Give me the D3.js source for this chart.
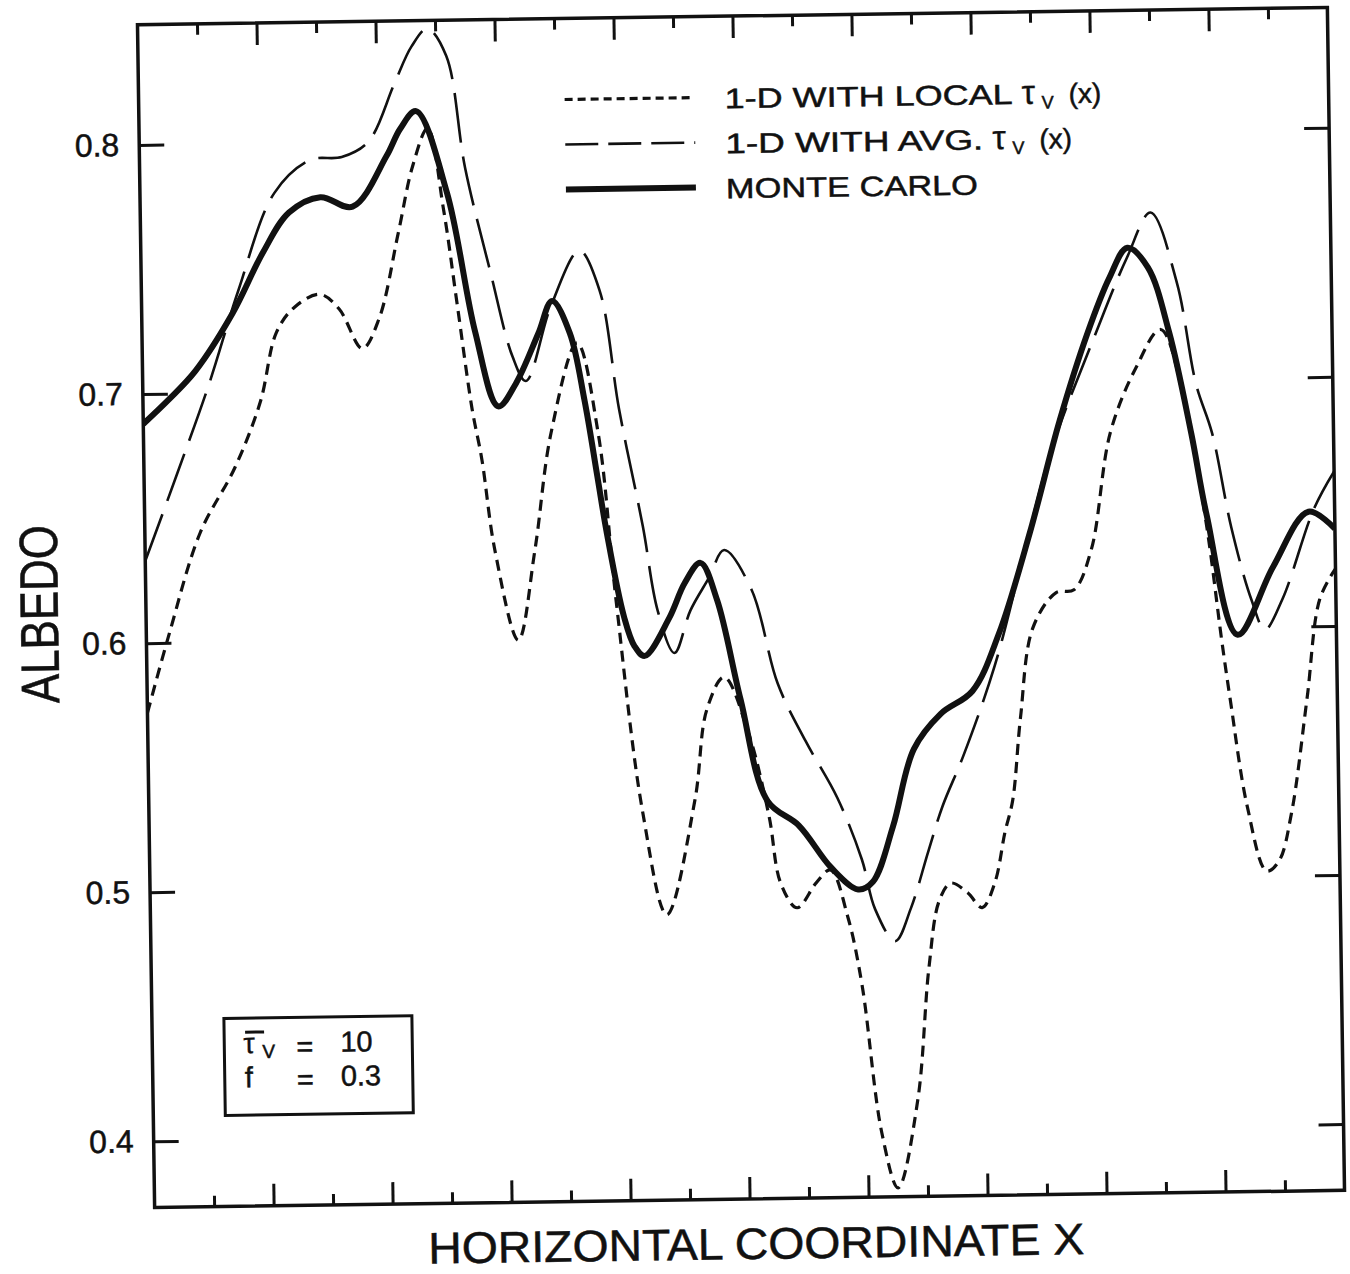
<!DOCTYPE html>
<html lang="en">
<head>
    <meta charset="UTF-8">
    <title>Albedo vs horizontal coordinate</title>
    <script src="https://d3js.org/d3.v7.min.js"></script>
    <style>
        body {
            margin: 0;
            background: #fff;
        }
        svg text {
            font-family: "Liberation Sans", Arial, Helvetica, sans-serif;
            fill: #111;
            stroke: #111;
            stroke-width: 0.5;
        }
        .axis path.domain {
            display: none;
        }
        .axis line {
            stroke: #111;
            stroke-width: 3;
        }
    </style>
</head>
<body>
    <svg id="chart" width="1350" height="1274"></svg>

    <script>
        // values, x in tick intervals (0..20)
        const xLocal = [0, 0.39, 0.93, 1.53, 1.97, 2.26, 2.57, 3.0, 3.32, 3.7, 3.99, 4.33, 4.59, 4.85, 5.1,
            5.3, 5.53, 5.68, 5.88, 6.25, 6.55, 6.85, 7.31, 7.64, 7.9, 8.3, 8.68, 9.18, 9.4, 9.7,
            10.1, 10.42, 10.6, 10.87, 11.2, 11.44, 11.72, 11.94, 12.24, 12.5, 12.85, 13.07, 13.26, 13.46, 13.74,
            13.98, 14.2, 14.38, 14.52, 14.67, 14.9, 15.3, 15.6, 15.9, 16.25, 16.7, 17.12, 17.55, 17.85, 18.07,
            18.2, 18.46, 18.77, 18.98, 19.2, 19.49, 19.73, 20];
        const albedoLocal = [0.572, 0.604, 0.644, 0.670, 0.696, 0.724, 0.734, 0.739, 0.733, 0.717, 0.729, 0.763, 0.790, 0.805, 0.772,
            0.735, 0.692, 0.672, 0.635, 0.599, 0.635, 0.682, 0.718, 0.682, 0.615, 0.529, 0.488, 0.534, 0.570, 0.583,
            0.560, 0.527, 0.500, 0.490, 0.500, 0.505, 0.486, 0.459, 0.399, 0.377, 0.412, 0.465, 0.492, 0.499, 0.495,
            0.489, 0.499, 0.519, 0.532, 0.565, 0.601, 0.615, 0.616, 0.632, 0.679, 0.705, 0.720, 0.685, 0.640, 0.595,
            0.571, 0.528, 0.502, 0.506, 0.525, 0.571, 0.611, 0.623];

        const xAvg = [0, 0.56, 1.12, 1.63, 2.26, 2.87, 3.4, 3.85, 4.3, 4.6, 4.87, 5.18, 5.47, 5.87, 6.22,
            6.44, 6.88, 7.37, 7.7, 8.0, 8.37, 8.6, 8.87, 9.15, 9.47, 9.73, 10.18, 10.6, 11.05, 11.57,
            11.97, 12.18, 12.51, 12.78, 13.09, 13.34, 13.7, 14.25, 14.78, 15.25, 16.03, 16.57, 16.98, 17.4, 17.7,
            17.96, 18.26, 18.58, 18.8, 19.1, 19.65, 20];
        const albedoAvg = [0.633, 0.668, 0.704, 0.741, 0.780, 0.793, 0.794, 0.800, 0.823, 0.838, 0.845, 0.834, 0.789, 0.747, 0.713,
            0.703, 0.733, 0.755, 0.739, 0.691, 0.644, 0.610, 0.593, 0.610, 0.623, 0.634, 0.618, 0.580, 0.557, 0.534,
            0.509, 0.489, 0.476, 0.489, 0.512, 0.530, 0.550, 0.586, 0.632, 0.672, 0.719, 0.749, 0.767, 0.739, 0.698,
            0.678, 0.640, 0.611, 0.599, 0.611, 0.647, 0.662];

        const xMC = [0, 0.45, 0.89, 1.53, 2.05, 2.5, 3.03, 3.57, 4.15, 4.39, 4.66, 5.16, 5.6, 5.97, 6.27,
            6.66, 6.9, 7.19, 7.42, 7.62, 7.76, 8.03, 8.2, 8.37, 8.79, 9.06, 9.33, 9.6, 9.97, 10.4,
            10.92, 11.45, 11.9, 12.15, 12.5, 12.87, 13.33, 13.87, 14.33, 14.87, 15.4, 15.89, 16.27, 16.58, 16.92,
            17.26, 17.61, 17.85, 18.34, 18.95, 19.56, 20];
        const albedoMC = [0.688, 0.698, 0.709, 0.732, 0.756, 0.772, 0.778, 0.774, 0.794, 0.805, 0.812, 0.779, 0.723, 0.693, 0.702,
            0.722, 0.735, 0.722, 0.695, 0.664, 0.642, 0.608, 0.596, 0.592, 0.607, 0.621, 0.629, 0.614, 0.574, 0.533,
            0.523, 0.506, 0.497, 0.500, 0.522, 0.553, 0.567, 0.576, 0.599, 0.639, 0.684, 0.719, 0.741, 0.753, 0.745,
            0.719, 0.678, 0.645, 0.597, 0.624, 0.646, 0.639];

        const yTicks = [0.4, 0.5, 0.6, 0.7, 0.8];
        const xMajor = [2, 4, 6, 8, 10, 12, 14, 16, 18];
        const xMinor = [1, 3, 5, 7, 9, 11, 13, 15, 17, 19];

        const series = [
            { name: "local", xs: xLocal, ys: albedoLocal, width: 3.2, dash: "11,7" },
            { name: "avg", xs: xAvg, ys: albedoAvg, width: 2.6, dash: "50,14" },
            { name: "mc", xs: xMC, ys: albedoMC, width: 6, dash: null }
        ];

        // 图框尺寸
        const margin = { top: 16, left: 146 };
        const width = 1190;
        const height = 1183;

        const svg = d3.select("#chart");

        // the scanned page is tilted a little, turn the whole figure with it
        const page = svg.append("g").attr("transform", "rotate(-0.83, 741, 607.5)");
        const plot = page.append("g").attr("transform", `translate(${margin.left},${margin.top})`);

        const x = d3.scaleLinear().domain([0, 20]).range([0, width]);
        const y = d3.scaleLinear().domain([0.3734, 0.8483]).range([height, 0]);

        // ticks, all pointing inward
        plot.append("g").attr("class", "axis")
            .attr("transform", `translate(0,${height})`)
            .call(d3.axisBottom(x).tickValues(xMajor).tickSize(-22).tickFormat(""));
        plot.append("g").attr("class", "axis")
            .attr("transform", `translate(0,${height})`)
            .call(d3.axisBottom(x).tickValues(xMinor).tickSize(-11).tickFormat(""));
        plot.append("g").attr("class", "axis")
            .call(d3.axisTop(x).tickValues(xMajor).tickSize(-22).tickFormat(""));
        plot.append("g").attr("class", "axis")
            .call(d3.axisTop(x).tickValues(xMinor).tickSize(-11).tickFormat(""));

        plot.append("g").attr("class", "axis")
            .call(d3.axisLeft(y).tickValues(yTicks).tickSize(-25).tickPadding(20).tickFormat(d3.format(".1f")))
            .selectAll("text")
            .style("font-size", "32px")
            .attr("fill", "#111");
        plot.append("g").attr("class", "axis")
            .attr("transform", `translate(${width},0)`)
            .call(d3.axisRight(y).tickValues(yTicks).tickSize(-25).tickFormat(""));

        // frame
        plot.append("rect")
            .attr("width", width)
            .attr("height", height)
            .attr("fill", "none")
            .attr("stroke", "#111")
            .attr("stroke-width", 3.5);

        plot.append("clipPath").attr("id", "clip")
            .append("rect").attr("width", width).attr("height", height);

        const line = d3.line()
            .x(d => x(d[0]))
            .y(d => y(d[1]))
            .curve(d3.curveCatmullRom.alpha(0.5));

        plot.append("g").attr("clip-path", "url(#clip)")
            .selectAll("path")
            .data(series)
            .join("path")
            .attr("d", s => line(s.xs.map((v, i) => [v, s.ys[i]])))
            .attr("fill", "none")
            .attr("stroke", "#111")
            .attr("stroke-width", s => s.width)
            .attr("stroke-dasharray", s => s.dash)
            .attr("stroke-linejoin", "round");

        // legend
        const legendRows = [
            { s: series[0], y: 97, label: "1-D WITH LOCAL", len: 288, tail: true, dash: "8,5" },
            { s: series[1], y: 142, label: "1-D WITH AVG.", len: 258, tail: true, dash: "33,10" },
            { s: series[2], y: 187, label: "MONTE CARLO", len: 252, tail: false, dash: null }
        ];
        const legend = page.append("g");
        legendRows.forEach(r => {
            legend.append("line")
                .attr("x1", 572).attr("x2", 702)
                .attr("y1", r.y).attr("y2", r.y)
                .attr("stroke", "#111")
                .attr("stroke-width", r.s.width)
                .attr("stroke-dasharray", r.dash);
            legend.append("text")
                .attr("x", 732).attr("y", r.y + 11)
                .attr("textLength", r.len)
                .attr("lengthAdjust", "spacingAndGlyphs")
                .style("font-size", "28px")
                .text(r.label);
            if (r.tail) {
                const x0 = 732 + r.len + 9;
                const t = legend.append("text").attr("x", x0).attr("y", r.y + 11);
                t.append("tspan").style("font-size", "34px").style("stroke-width", 0.3).text("τ");
                t.append("tspan").attr("x", x0 + 20).attr("dy", 5).style("font-size", "18px").text("V");
                t.append("tspan").attr("x", x0 + 47).attr("dy", -5).style("font-size", "28px").text("(x)");
            }
        });

        // parameter box
        const box = page.append("g");
        box.append("rect")
            .attr("x", 218).attr("y", 1011)
            .attr("width", 188).attr("height", 97)
            .attr("fill", "#fff")
            .attr("stroke", "#111")
            .attr("stroke-width", 3);
        box.append("line")
            .attr("x1", 239).attr("x2", 258)
            .attr("y1", 1025).attr("y2", 1025)
            .attr("stroke", "#111").attr("stroke-width", 3);
        const row1 = box.append("text").attr("y", 1046).style("font-size", "29px");
        row1.append("tspan").attr("x", 237).style("stroke-width", 0.3).text("τ");
        row1.append("tspan").attr("x", 256).attr("dy", 5).style("font-size", "19px").text("V");
        row1.append("tspan").attr("x", 290).attr("dy", -1).text("=");
        row1.append("tspan").attr("x", 334).attr("dy", -4).text("10");
        const row2 = box.append("text").attr("y", 1080).style("font-size", "29px");
        row2.append("tspan").attr("x", 238).text("f");
        row2.append("tspan").attr("x", 290).attr("dy", 3).text("=");
        row2.append("tspan").attr("x", 334).attr("dy", -3).text("0.3");

        // axis titles
        page.append("text")
            .attr("transform", "translate(58,604) rotate(-90)")
            .attr("text-anchor", "middle")
            .attr("textLength", 178)
            .attr("lengthAdjust", "spacingAndGlyphs")
            .style("font-size", "54px")
            .text("ALBEDO");

        page.append("text")
            .attr("x", 747).attr("y", 1259)
            .attr("text-anchor", "middle")
            .attr("textLength", 656)
            .attr("lengthAdjust", "spacingAndGlyphs")
            .style("font-size", "44px")
            .text("HORIZONTAL COORDINATE X");
    </script>
</body>
</html>
